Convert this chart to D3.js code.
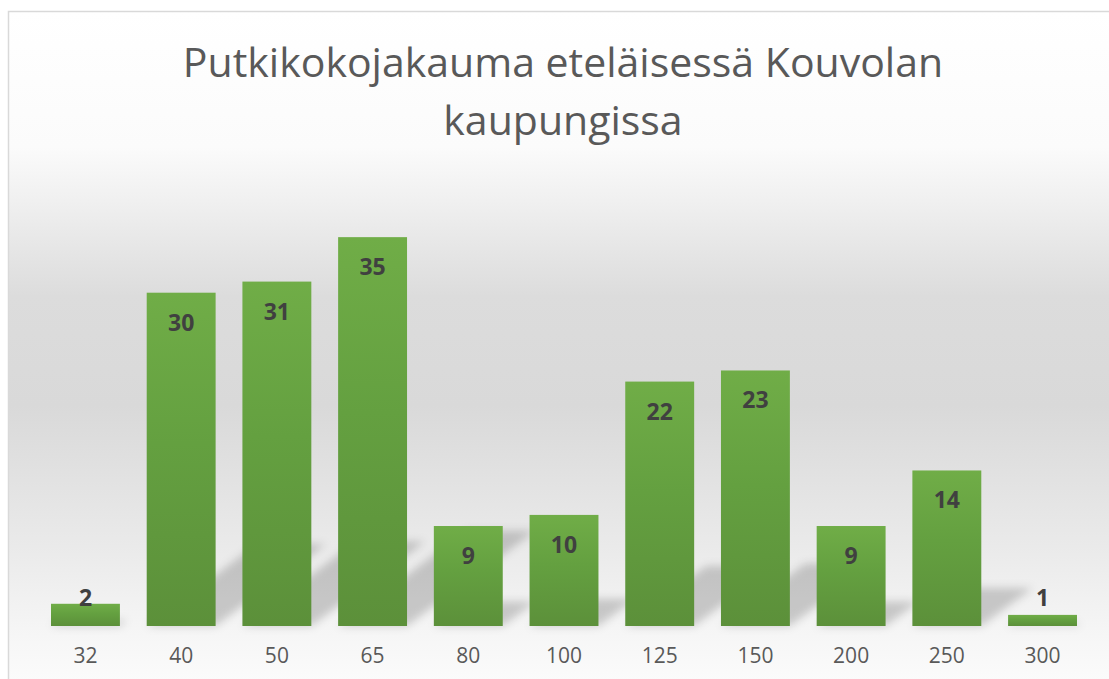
<!DOCTYPE html>
<html>
<head>
<meta charset="utf-8">
<script src="https://cdn.jsdelivr.net/npm/d3@7"></script>
<style>
  body { margin: 0; background: #ffffff; }
  svg { display: block; font-family: "Open Sans", sans-serif; }
</style>
</head>
<body>
<div id="chart"></div>
<script>
// values
const sizes = ["32", "40", "50", "65", "80", "100", "125", "150", "200", "250", "300"];
const counts = [2, 30, 31, 35, 9, 10, 22, 23, 9, 14, 1];
const titleLines = ["Putkikokojakauma eteläisessä Kouvolan", "kaupungissa"];

const
    width = 1109,
    height = 679,
    base = 626,
    colors = {
        title: "#595959",
        label: "#404040",
        axis: "#595959",
        border: "#d9d9d9"
    };

const data = sizes.map((s, i) => ({ size: s, value: counts[i] }));

const svg = d3.select("#chart").append("svg")
    .attr("width", width)
    .attr("height", height);

const defs = svg.append("defs");

const bg = defs.append("linearGradient")
    .attr("id", "bg-grad")
    .attr("x1", 0).attr("y1", 0).attr("x2", 0).attr("y2", 1);
[[0, "#ffffff"], [0.2, "#fbfbfb"], [0.42, "#dcdcdc"], [0.58, "#d9d9d9"],
 [0.8, "#ebebeb"], [0.93, "#f7f7f7"], [1, "#fcfcfc"]]
    .forEach(s => bg.append("stop").attr("offset", s[0]).attr("stop-color", s[1]));

const barGrad = defs.append("linearGradient")
    .attr("id", "bar-grad")
    .attr("x1", 0).attr("y1", 0).attr("x2", 0).attr("y2", 1);
[[0, "#70ad47"], [0.45, "#64a040"], [1, "#5c903a"]]
    .forEach(s => barGrad.append("stop").attr("offset", s[0]).attr("stop-color", s[1]));

defs.append("filter")
    .attr("id", "blur")
    .attr("x", "-20%").attr("y", "-20%").attr("width", "140%").attr("height", "140%")
    .append("feGaussianBlur")
    .attr("stdDeviation", 4);

// chart area background + border
svg.append("rect")
    .attr("x", 8.5)
    .attr("y", 11.5)
    .attr("width", width)
    .attr("height", height)
    .attr("fill", "url(#bg-grad)")
    .attr("stroke", colors.border)
    .attr("stroke-width", 1.5);

const x = d3.scaleBand()
    .domain(sizes)
    .range([37.6, 1090.4])
    .paddingInner(0.28)
    .paddingOuter(0.14);

const y = d3.scaleLinear()
    .domain([0, 40])
    .range([base, 181.6]);

// title
svg.append("text")
    .attr("x", 563)
    .attr("y", 77)
    .attr("text-anchor", "middle")
    .attr("fill", colors.title)
    .style("font-size", "41px")
    .selectAll("tspan")
    .data(titleLines)
    .enter().append("tspan")
    .attr("x", 563)
    .attr("dy", (d, i) => i === 0 ? 0 : 58)
    .text(d => d);

// perspective shadows behind the bars
function shadowPath(d) {
    const h = base - y(d.value),
        x0 = x(d.size),
        x1 = x0 + x.bandwidth(),
        dx = 0.33 * h,
        v = 0.245 * h;
    return `M${x0},${base}L${x1},${base}L${x1 + dx},${base - v}L${x0 + dx},${base - v}Z`;
}

svg.append("g")
    .attr("filter", "url(#blur)")
    .selectAll("path")
    .data(data)
    .enter().append("path")
    .attr("d", shadowPath)
    .attr("fill", "#000")
    .attr("fill-opacity", 0.18);

// bars
svg.append("g")
    .selectAll("rect")
    .data(data)
    .enter().append("rect")
    .attr("x", d => x(d.size))
    .attr("y", d => y(d.value))
    .attr("width", x.bandwidth())
    .attr("height", d => base - y(d.value))
    .attr("fill", "url(#bar-grad)");

// data labels
svg.append("g")
    .selectAll("text")
    .data(data)
    .enter().append("text")
    .attr("x", d => x(d.size) + x.bandwidth() / 2)
    .attr("y", d => Math.min(y(d.value) + 38, 606))
    .attr("text-anchor", "middle")
    .attr("fill", colors.label)
    .style("font-size", "23px")
    .style("font-weight", "bold")
    .text(d => d.value);

// category axis
const xAxis = svg.append("g")
    .attr("transform", `translate(0,${base})`)
    .call(d3.axisBottom(x).tickSize(0).tickPadding(0));
xAxis.select(".domain").remove();
xAxis.selectAll("text")
    .attr("y", 37)
    .attr("dy", 0)
    .attr("fill", colors.axis)
    .style("font-family", "'Open Sans', sans-serif")
    .style("font-size", "21px");
</script>
</body>
</html>
